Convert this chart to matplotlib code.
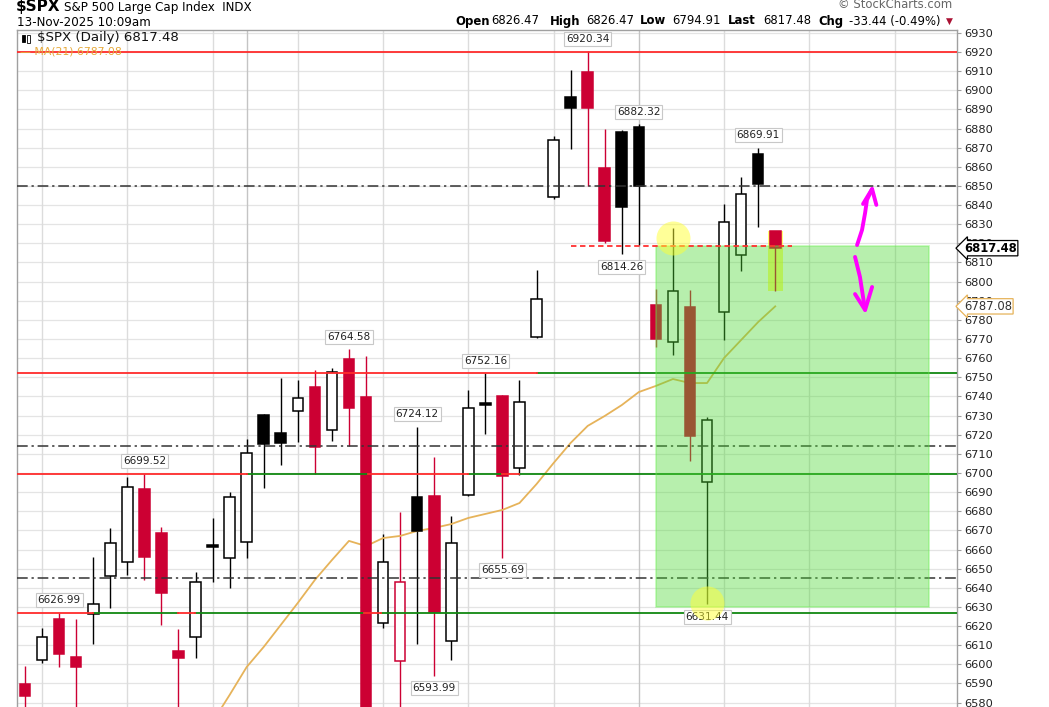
import matplotlib
matplotlib.use('Agg')
import matplotlib.pyplot as plt
import numpy as np
import pandas as pd
from matplotlib.patches import Rectangle

# ---- data ----
dates = pd.bdate_range('2025-09-12', periods=56)   # 45 trading days + empty space on the right
prev_close0 = 6587.47
opens = [6589.7, 6602.3, 6623.7, 6603.8, 6626.3, 6646.2, 6653.5, 6691.6, 6668.6, 6607.0,
         6614.3, 6662.0, 6655.6, 6663.9, 6730.3, 6720.9, 6732.4, 6744.9, 6722.5, 6759.6,
         6739.7, 6621.6, 6601.7, 6687.5, 6688.0, 6612.2, 6688.5, 6736.3, 6740.2, 6702.6,
         6771.1, 6844.2, 6896.5, 6909.5, 6859.4, 6878.2, 6880.8, 6787.8, 6768.5, 6786.7,
         6695.3, 6784.1, 6813.9, 6866.7, 6826.47]
highs = [6599.1, 6619.0, 6626.99, 6623.7, 6656.1, 6671.3, 6697.9, 6699.52, 6671.8, 6618.5,
         6648.3, 6676.5, 6690.1, 6717.8, 6730.8, 6749.6, 6748.6, 6753.8, 6754.9, 6764.58,
         6761.1, 6668.1, 6679.6, 6724.12, 6708.4, 6677.5, 6743.4, 6752.16, 6740.5, 6748.6,
         6806.1, 6876.1, 6910.6, 6920.34, 6879.8, 6879.0, 6882.32, 6796.0, 6828.0, 6795.6,
         6729.3, 6840.6, 6854.7, 6869.91, 6826.47]
lows = [6576.0, 6600.7, 6598.6, 6560.0, 6610.6, 6629.4, 6646.7, 6644.1, 6620.6, 6560.0,
        6603.3, 6643.0, 6639.9, 6655.6, 6692.2, 6704.2, 6716.2, 6699.5, 6716.7, 6714.1,
        6550.5, 6619.0, 6550.0, 6610.6, 6593.99, 6602.3, 6688.0, 6720.4, 6655.69, 6698.9,
        6770.5, 6843.2, 6869.3, 6850.0, 6820.2, 6814.26, 6819.1, 6766.0, 6761.7, 6706.3,
        6631.44, 6769.5, 6805.6, 6828.5, 6794.91]
closes = [6583.5, 6614.3, 6605.4, 6598.6, 6631.5, 6663.4, 6692.7, 6656.1, 6637.3, 6603.3,
          6643.0, 6661.2, 6687.5, 6710.4, 6715.35, 6715.79, 6739.2, 6713.6, 6752.8, 6734.0,
          6552.5, 6653.5, 6643.0, 6669.7, 6627.4, 6663.4, 6734.0, 6735.3, 6698.4, 6737.1,
          6790.9, 6874.0, 6890.9, 6890.6, 6821.2, 6839.0, 6850.0, 6770.0, 6795.1, 6719.3,
          6727.7, 6831.2, 6845.8, 6850.92, 6817.48]
ma_start = 11
ma21 = [6569.9, 6584.0, 6598.6, 6609.1, 6620.6, 6632.1, 6644.1, 6654.5, 6664.5, 6661.8,
        6666.0, 6667.1, 6669.7, 6671.3, 6673.3, 6676.5, 6678.6, 6680.7, 6684.3, 6694.2,
        6705.2, 6715.7, 6724.6, 6729.8, 6735.5, 6742.3, 6745.5, 6749.1, 6747.0, 6747.0,
        6760.1, 6769.5, 6778.9, 6787.08]

# labelled highs / lows: (bar index, value, above?)
hl_labels = [(33, 6920.34, True), (36, 6882.32, True), (43, 6869.91, True), (35, 6814.26, False),
             (19, 6764.58, True), (27, 6752.16, True), (23, 6724.12, True), (7, 6699.52, True),
             (2, 6626.99, True), (28, 6655.69, False), (24, 6593.99, False), (40, 6631.44, False)]

# annotation lines drawn by the user
dashdot_levels = [6850.2, 6714.3, 6645.1]
red_segments = [(6920.0, None, None), (6752.16, None, 30.0), (6699.52, None, 13.0),
                (6699.52, 20.1, 26.0), (6699.52, 28.0, 29.0), (6626.99, None, 4.0),
                (6626.99, 9.0, 9.95), (6626.99, 19.9, 20.9)]
green_segments = [(6752.16, 30.0, None), (6699.52, 13.0, 20.1), (6699.52, 26.0, 28.0),
                  (6699.52, 29.0, None), (6626.99, 4.0, 9.0), (6626.99, 9.95, 19.9),
                  (6626.99, 20.9, None)]
red_dash = (6818.6, 32.0, 45.0)
green_box = (37.0, 53.0, 6630.0, 6818.6)
circles = [(38, 6822.8), (40, 6632.1)]
arrow_up = [(48.8, 6819.1), (49.09, 6827.0), (49.27, 6835.9), (49.38, 6842.7), (49.68, 6848.4)]
arrow_up_head = [(49.15, 6840.6), (49.68, 6848.4), (49.93, 6840.1)]
arrow_dn = [(48.68, 6812.9), (48.97, 6802.4), (49.15, 6792.0), (49.27, 6785.2)]
arrow_dn_head = [(48.68, 6793.5), (49.27, 6785.2), (49.68, 6797.2)]

RED = '#cc0033'
W, H = 1049, 707
fig = plt.figure(figsize=(W / 100, H / 100), dpi=100)
fig.patch.set_facecolor('white')
ax = fig.add_axes([17 / W, 0, 940 / W, 677 / H])
xl, xr = -0.47, 54.66
ax.set_xlim(xl, xr)
ax.set_ylim(6577.7, 6931.5)

# grid
for lv in np.arange(6580, 6931, 10):
    ax.axhline(lv, color='#e4e4e4', lw=0.9, zorder=0)
n = len(dates)
for k in range(n):
    d = dates[k]
    newmonth = k > 0 and d.month != dates[k - 1].month
    if newmonth:
        ax.axvline(k, color='#c4c4c4', lw=1.0, zorder=0)
    elif d.weekday() == 0:
        ax.axvline(k, color='#dcdcdc', lw=1.0, zorder=0)

# candles
wid = 0.62
pc = prev_close0
for i, (o, h, l, c) in enumerate(zip(opens, highs, lows, closes)):
    col = 'black' if c >= pc else RED
    filled = c < o
    ax.plot([i, i], [l, h], color=col, lw=1.0, zorder=2, solid_capstyle='butt')
    lo, hgt = min(o, c), max(abs(c - o), 1.2)
    ax.add_patch(Rectangle((i - wid / 2, lo), wid, hgt, facecolor=col if filled else 'white',
                           edgecolor=col, lw=1.1, zorder=3))
    pc = c

# MA(21)
ma_x = np.arange(ma_start, ma_start + len(ma21))
ax.plot(ma_x, ma21, color='#e6b35a', lw=1.3, zorder=2.5)

# horizontal annotation lines
for lv in dashdot_levels:
    ax.plot([xl, xr], [lv, lv], color='#333333', lw=1.1, ls=(0, (7, 2.5, 1.5, 2.5)), zorder=4)
for lv, a, b in green_segments:
    ax.plot([xl if a is None else a, xr if b is None else b], [lv, lv], color='#118811',
            lw=1.3, zorder=4)
for lv, a, b in red_segments:
    ax.plot([xl if a is None else a, xr if b is None else b], [lv, lv], color='#ff2b2b',
            lw=1.3, zorder=4)
ax.plot([red_dash[1], red_dash[2]], [red_dash[0]] * 2, color='#ff3030', lw=1.3,
        ls=(0, (3, 2)), zorder=6)

# highlight on the last candle
last = len(closes) - 1
ax.add_patch(Rectangle((last - 0.45, lows[last]), 0.9, highs[last] - lows[last],
                       facecolor='#ffff00', alpha=0.55, edgecolor='none', zorder=1))

# green shaded zone
gx0, gx1, gy0, gy1 = green_box
ax.add_patch(Rectangle((gx0, gy0), gx1 - gx0, gy1 - gy0, facecolor=(0.3, 0.85, 0.2),
                       alpha=0.4, edgecolor=(0.4, 0.95, 0.3), lw=1.2, zorder=5))

# high / low value tags
for i, v, up in hl_labels:
    ax.annotate(f'{v:.2f}', xy=(i, v), xytext=(0, 9 if up else -9), textcoords='offset points',
                ha='center', va='center', fontsize=7.6, color='#222222', zorder=7,
                bbox=dict(boxstyle='square,pad=0.18', fc='white', ec='#c8c8c8', lw=0.8))

# yellow circles
for i, v in circles:
    ax.plot(i, v, 'o', ms=24.5, color='#ffff33', alpha=0.5, mec='none', zorder=8)

# magenta hand-drawn arrows
for pts in (arrow_up, arrow_up_head, arrow_dn, arrow_dn_head):
    xs, ys = zip(*pts)
    ax.plot(xs, ys, color='#ff00ff', lw=2.8, solid_capstyle='round', solid_joinstyle='round',
            zorder=9)

# axes styling
for s in ['left', 'top', 'right']:
    ax.spines[s].set_color('#a0a0a0')
    ax.spines[s].set_linewidth(1.0)
ax.spines['bottom'].set_visible(False)
ax.set_xticks([])
ax.yaxis.tick_right()
ax.set_yticks(np.arange(6580, 6931, 10))
ax.tick_params(axis='y', length=3, width=0.8, color='#a0a0a0', pad=2, labelsize=8.2,
               labelcolor='#222222')

# price tags on the right axis
ax.annotate(f'{closes[last]:.2f}', xy=(1, closes[last]), xycoords=('axes fraction', 'data'),
            xytext=(5, 0), textcoords='offset points', ha='left', va='center', fontsize=8.4,
            fontweight='bold', color='black', annotation_clip=False, zorder=10,
            bbox=dict(boxstyle='larrow,pad=0.1', fc='white', ec='black', lw=0.9))
ax.annotate(f'{ma21[-1]:.2f}', xy=(1, ma21[-1]), xycoords=('axes fraction', 'data'),
            xytext=(5, 0), textcoords='offset points', ha='left', va='center', fontsize=8.4,
            color='#333333', annotation_clip=False, zorder=10,
            bbox=dict(boxstyle='larrow,pad=0.1', fc='white', ec='#e6b35a', lw=0.9))


def fy(y):
    return 1 - y / H


# in-chart legend
fig.patches.append(Rectangle((22 / W, fy(42)), 3 / W, 7 / H, transform=fig.transFigure,
                             facecolor='black', edgecolor='black', lw=0.6))
fig.patches.append(Rectangle((27 / W, fy(43)), 3 / W, 8 / H, transform=fig.transFigure,
                             facecolor='white', edgecolor='black', lw=0.6))
fig.text(37 / W, fy(38), f'$SPX (Daily) {closes[last]:.2f}', fontsize=9.6, color='#111111',
         va='center', ha='left')
fig.text(20 / W, fy(52), f'\u2014 MA(21) {ma21[-1]:.2f}', fontsize=7.8, color='#e6a93a',
         va='center', ha='left', zorder=1)

# header
fig.text(16 / W, fy(7), '$SPX', fontsize=11, fontweight='bold', va='center', ha='left')
fig.text(64 / W, fy(7), 'S&P 500 Large Cap Index  INDX', fontsize=8.6, va='center', ha='left')
fig.text(17 / W, fy(22), '13-Nov-2025 10:09am', fontsize=8.6, va='center', ha='left')
fig.text(952 / W, fy(5), '\u00a9 StockCharts.com', fontsize=8.4, color='#666666',
         va='center', ha='right')
hdr = [('Open', 455, f'{opens[last]:.2f}', 491), ('High', 550, f'{highs[last]:.2f}', 586),
       ('Low', 640, f'{lows[last]:.2f}', 672), ('Last', 728, f'{closes[last]:.2f}', 763),
       ('Chg', 818, f'{closes[last] - closes[last - 1]:.2f} '
                    f'({(closes[last] / closes[last - 1] - 1) * 100:.2f}%)', 849)]
for lab, lx, val, vx in hdr:
    fig.text(lx / W, fy(21), lab, fontsize=8.4, fontweight='bold', va='center', ha='left')
    fig.text(vx / W, fy(21), val, fontsize=8.4, va='center', ha='left')
fig.text(949 / W, fy(21), '\u25bc', fontsize=6.5, color='#aa1133', va='center', ha='center')

fig.savefig('out.png', dpi=100, facecolor='white')
